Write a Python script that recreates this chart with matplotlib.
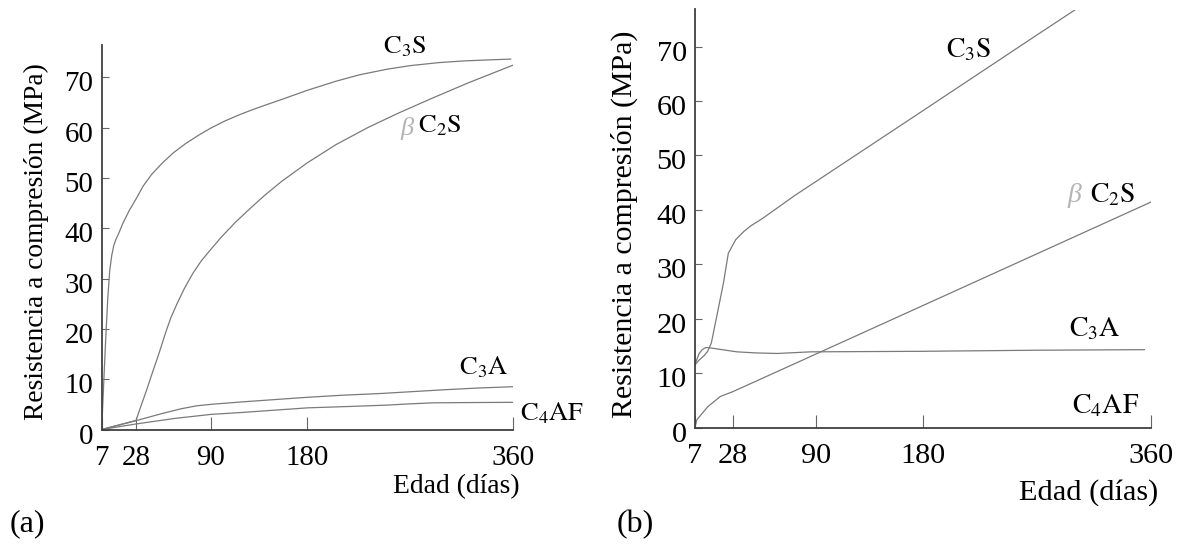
import numpy as np
import matplotlib
matplotlib.use("Agg")
import matplotlib.pyplot as plt
from matplotlib.transforms import ScaledTranslation

plt.rcParams['font.family'] = ['Liberation Serif', 'DejaVu Serif']
plt.rcParams['mathtext.fontset'] = 'stix'

# ---- axis definition: age axis is drawn on a stretched (non-uniform) scale ----
age_ticks = [7, 28, 90, 180, 360]
age_tick_spacing = [0.0, 0.0834, 0.2655, 0.5, 1.0]
strength_ticks = [0, 10, 20, 30, 40, 50, 60, 70]

# ---- (a) compressive strength of the pure clinker phases ----
a_c3s_days = [7, 8.2, 9.45, 10.7, 11.9, 13.1, 14.35, 15.6, 17.2, 20, 24, 28, 34, 41, 50,
              59, 69, 80, 90, 103, 115, 127, 140, 155, 180, 205, 226, 250, 270, 295, 318,
              340, 358]
a_c3s_mpa = [0, 9, 18, 26, 31.5, 34.5, 36.5, 37.7, 38.8, 41, 43.6, 45.8, 48.4, 50.7, 53.0,
             55.0, 56.8, 58.5, 59.9, 61.3, 62.4, 63.4, 64.4, 65.5, 67.4, 69.2, 70.5, 71.6,
             72.3, 72.9, 73.25, 73.45, 73.6]

a_c2s_days = [7, 14, 21, 28, 31, 37, 42, 47, 53, 57, 62, 68, 75, 82, 90, 100, 113, 126,
              140, 156, 180, 205, 233, 260, 290, 320, 360]
a_c2s_mpa = [0, 0.6, 1.2, 1.8, 3.9, 8, 11.6, 15.1, 19.6, 22.3, 25, 28, 31, 33.5, 35.8,
             38.3, 41.2, 43.8, 46.5, 49.3, 53.0, 56.6, 60, 62.9, 65.9, 68.8, 72.4]

a_c3a_days = [7, 28, 50, 65, 78, 90, 120, 150, 180, 210, 244, 270, 300, 330, 360]
a_c3a_mpa = [0, 1.75, 3.2, 4.1, 4.7, 5.0, 5.5, 5.95, 6.4, 6.8, 7.15, 7.5, 7.9, 8.25, 8.5]

a_c4af_days = [7, 28, 60, 90, 120, 180, 220, 250, 270, 290, 320, 360]
a_c4af_mpa = [0, 1.1, 2.2, 3.0, 3.4, 4.3, 4.6, 4.85, 5.1, 5.3, 5.35, 5.4]

# ---- (b) ----
b_c3s_days = [7, 9, 12, 14, 16, 19, 22.7, 25.4, 28, 30, 36, 41, 50, 74, 90, 180, 270, 315]
b_c3s_mpa = [11.5, 12.3, 13.2, 14.0, 15.5, 20.4, 26.5, 32.0, 33.6, 34.5, 36.0, 37.0, 38.4,
             42.6, 45.2, 58.2, 72.1, 79.0]

b_c2s_days = [7, 8, 14, 21, 28, 90, 180, 360]
b_c2s_mpa = [0, 1.4, 3.8, 5.7, 6.6, 13.5, 22.4, 41.4]

b_c3a_days = [7, 8, 9.3, 11, 13, 16, 22, 31, 45, 61, 86, 180, 270, 355]
b_c3a_mpa = [11.5, 12.5, 13.6, 14.3, 14.7, 14.6, 14.3, 13.9, 13.7, 13.6, 13.9, 14.0,
             14.2, 14.3]

# label anchors (day, MPa)
a_labels = {'c3s': (265, 76.1), 'beta': (267, 59.8), 'c2s': (296, 60.3),
            'c3a': (334, 12.4), 'c4af': (360, 3.2)}
b_labels = {'c3s': (216, 69.5), 'beta': (300, 42.7), 'c2s': (330, 42.7),
            'c3a': (316, 18.1), 'c4af': (324, 4.1)}


def _piecewise(x, src, dst):
    x = np.asarray(x, dtype=float)
    y = np.interp(x, src, dst)
    lo = (dst[1] - dst[0]) / (src[1] - src[0])
    hi = (dst[-1] - dst[-2]) / (src[-1] - src[-2])
    y = np.where(x < src[0], dst[0] + (x - src[0]) * lo, y)
    y = np.where(x > src[-1], dst[-1] + (x - src[-1]) * hi, y)
    return y


def age_forward(d):
    return _piecewise(d, age_ticks, age_tick_spacing)


def age_inverse(f):
    return _piecewise(f, age_tick_spacing, age_ticks)


LINE = dict(color='#7a7a7a', lw=0.9)
W, H = 1178, 544
fig = plt.figure(figsize=(W / 100, H / 100), dpi=100)

ax_a = fig.add_axes([101.7 / W, 1 - 429.5 / H, 411.3 / W, 384.5 / H])
ax_b = fig.add_axes([695 / W, 1 - 427.5 / H, 455.7 / W, 418 / H])


def style_axes(ax, ymax, tick_fs, label_fs, ylabel_xy):
    ax.set_xscale('function', functions=(age_forward, age_inverse))
    ax.set_xlim(7, 360)
    ax.set_ylim(0, ymax)
    ax.set_xticks(age_ticks)
    ax.set_xticklabels([str(t) for t in age_ticks])
    ax.set_yticks(strength_ticks)
    ax.set_yticklabels([str(t) for t in strength_ticks])
    ax.xaxis.set_minor_locator(matplotlib.ticker.NullLocator())
    for s in ('top', 'right'):
        ax.spines[s].set_visible(False)
    for s in ('left', 'bottom'):
        ax.spines[s].set_color('#404040')
        ax.spines[s].set_linewidth(1.3)
    ax.tick_params(axis='x', direction='in', length=9.5, width=0.8, color='#666666',
                   labelsize=tick_fs, pad=11.5)
    ax.tick_params(axis='y', direction='in', length=5, width=0.8, color='#666666',
                   labelsize=tick_fs, pad=6)
    for lbl in ax.get_yticklabels():
        lbl.set_transform(lbl.get_transform() + ScaledTranslation(0, -0.04, fig.dpi_scale_trans))
    ax.set_ylabel('Resistencia a compresión (MPa)', fontsize=label_fs)
    ax.yaxis.set_label_coords(*ylabel_xy)
    ax.patch.set_alpha(0)


style_axes(ax_a, 76.4, 20.8, 19.8, (-0.128, 0.49))
style_axes(ax_b, 76.8, 21.8, 21.5, (-0.124, 0.486))

# ---- (a) curves ----
ax_a.plot(a_c3s_days, a_c3s_mpa, **LINE)
ax_a.plot(a_c2s_days, a_c2s_mpa, **LINE)
ax_a.plot(a_c3a_days, a_c3a_mpa, **LINE)
ax_a.plot(a_c4af_days, a_c4af_mpa, **LINE)

# ---- (b) curves ----
ax_b.plot(b_c3s_days, b_c3s_mpa, **LINE)
ax_b.plot(b_c2s_days, b_c2s_mpa, **LINE)
ax_b.plot(b_c3a_days, b_c3a_mpa, **LINE)


def curve_labels(ax, pos, fs):
    ax.text(*pos['c3s'], r'$\mathrm{C_3S}$', fontsize=fs, ha='center', va='center', clip_on=False)
    ax.text(*pos['beta'], 'β', fontsize=fs, ha='center', va='center', color='#b4b4b4',
            fontstyle='italic', clip_on=False)
    ax.text(*pos['c2s'], r'$\mathrm{C_2S}$', fontsize=fs, ha='center', va='center', clip_on=False)
    ax.text(*pos['c3a'], r'$\mathrm{C_3A}$', fontsize=fs, ha='center', va='center', clip_on=False)


curve_labels(ax_a, a_labels, 19)
ax_a.annotate(r'$\mathrm{C_4AF}$', xy=a_labels['c4af'], xytext=(5, 0), textcoords='offset points',
              fontsize=19, ha='left', va='center', annotation_clip=False)
curve_labels(ax_b, b_labels, 20)
ax_b.text(*b_labels['c4af'], r'$\mathrm{C_4AF}$', fontsize=20, ha='center', va='center')

# axis titles and panel letters
fig.text(520 / W, 1 - 487 / H, 'Edad (días)', fontsize=19.9, ha='right', va='center')
fig.text(1158 / W, 1 - 493 / H, 'Edad (días)', fontsize=21.8, ha='right', va='center')
fig.text(27 / W, 1 - 524 / H, '(a)', fontsize=23, ha='center', va='center')
fig.text(635 / W, 1 - 525 / H, '(b)', fontsize=23, ha='center', va='center')

fig.savefig('out.png', dpi=100, facecolor='white')
